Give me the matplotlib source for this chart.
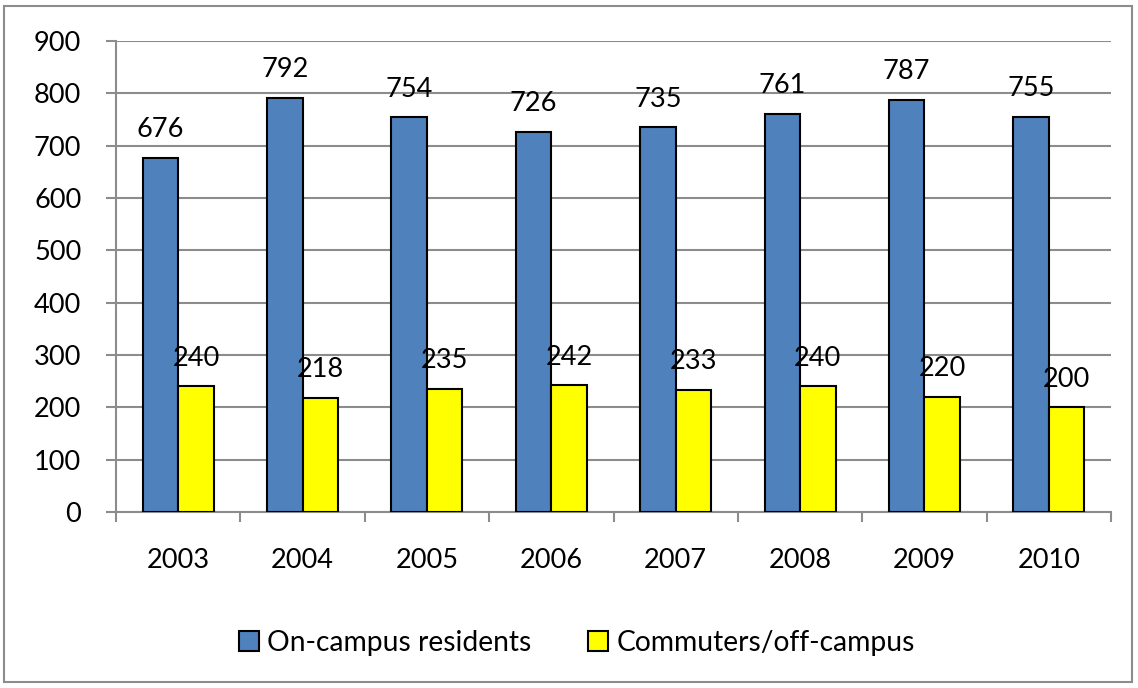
import numpy as np
import matplotlib.pyplot as plt
from matplotlib.patches import Rectangle

years = ["2003", "2004", "2005", "2006", "2007", "2008", "2009", "2010"]
on_campus = [676, 792, 754, 726, 735, 761, 787, 755]
commuters = [240, 218, 235, 242, 233, 240, 220, 200]

plt.rcParams["font.family"] = ["Lato", "DejaVu Sans"]
num_size = 19.5

fig = plt.figure(figsize=(11.38, 6.88), dpi=100)
ax = fig.add_axes([116 / 1138, 1 - 512 / 688, (1111 - 116) / 1138, (512 - 41) / 688])

x = np.arange(len(years))
w = 1 / 3.5
b1 = ax.bar(x - w / 2, on_campus, w, color="#4f81bd", edgecolor="black", linewidth=1.5,
            label="On-campus residents", zorder=3)
b2 = ax.bar(x + w / 2, commuters, w, color="#ffff00", edgecolor="black", linewidth=1.5,
            label="Commuters/off-campus", zorder=3)

for bars, vals in ((b1, on_campus), (b2, commuters)):
    for r, v in zip(bars, vals):
        ax.annotate(str(v), (r.get_x() + r.get_width() / 2, v), xytext=(0, 15),
                    textcoords="offset points", ha="center", va="baseline",
                    fontsize=num_size, zorder=4)

ax.set_xlim(-0.5, len(years) - 0.5)
ax.set_ylim(0, 900)
ax.set_yticks(range(0, 901, 100))
ax.yaxis.grid(True, color="#8c8c8c", linewidth=1.5, zorder=0)
ax.set_xticks(x)
ax.set_xticklabels(years)
ax.set_xticks(np.arange(-0.5, len(years), 1), minor=True)
ax.tick_params(axis="x", which="major", length=0, pad=26, labelsize=num_size)
ax.tick_params(axis="x", which="minor", length=7, width=1.5, color="#8c8c8c", direction="out")
ax.tick_params(axis="y", length=7, width=1.5, color="#8c8c8c", labelsize=num_size, pad=18)
for s in ("top", "right"):
    ax.spines[s].set_visible(False)
for s in ("left", "bottom"):
    ax.spines[s].set_color("#8c8c8c")
    ax.spines[s].set_linewidth(1.5)

fig.legend(handles=[b1, b2], loc="center", bbox_to_anchor=(577 / 1138, 1 - 643 / 688),
           ncol=2, frameon=False, fontsize=20.3,
           handlelength=0.72, handleheight=0.72, handletextpad=0.3, columnspacing=2.0)

fig.patches.append(Rectangle((4 / 1138, 6 / 688), 1128 / 1138, 676 / 688, transform=fig.transFigure,
                             fill=False, edgecolor="#8c8c8c", linewidth=1.5))

fig.savefig("out.png", dpi=100)
